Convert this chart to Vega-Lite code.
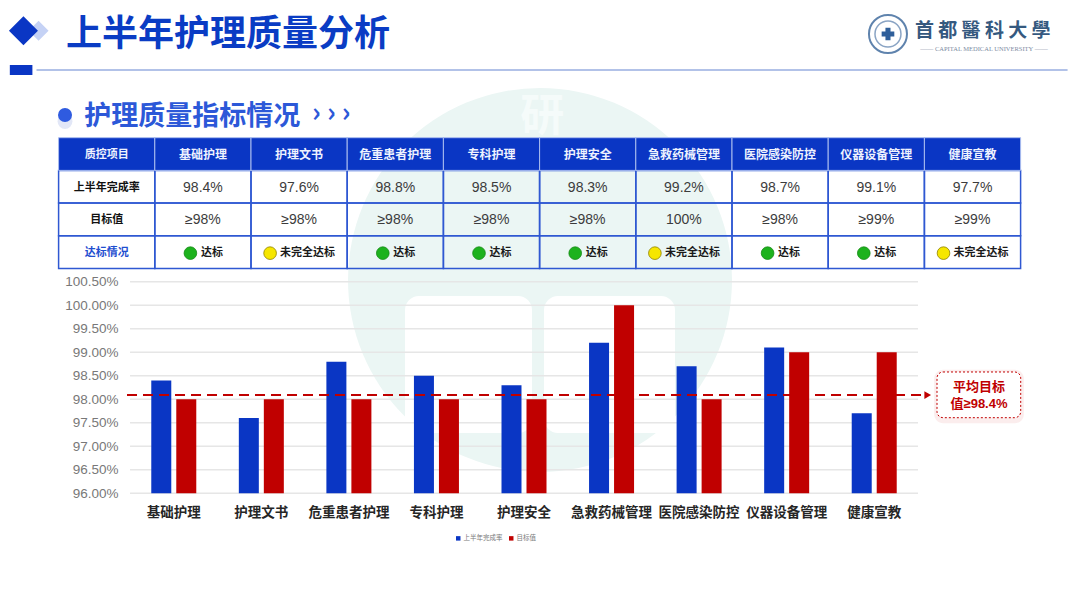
{
  "$schema": "https://vega.github.io/schema/vega-lite/v6.json",
  "width": 1080,
  "height": 608,
  "padding": 0,
  "autosize": {"type": "none"},
  "background": "white",
  "datasets": {
    "bars": [
      {"item": "基础护理", "series": "上半年完成率", "value": 98.4},
      {"item": "基础护理", "series": "目标值", "value": 98},
      {"item": "护理文书", "series": "上半年完成率", "value": 97.6},
      {"item": "护理文书", "series": "目标值", "value": 98},
      {"item": "危重患者护理", "series": "上半年完成率", "value": 98.8},
      {"item": "危重患者护理", "series": "目标值", "value": 98},
      {"item": "专科护理", "series": "上半年完成率", "value": 98.5},
      {"item": "专科护理", "series": "目标值", "value": 98},
      {"item": "护理安全", "series": "上半年完成率", "value": 98.3},
      {"item": "护理安全", "series": "目标值", "value": 98},
      {"item": "急救药械管理", "series": "上半年完成率", "value": 99.2},
      {"item": "急救药械管理", "series": "目标值", "value": 100},
      {"item": "医院感染防控", "series": "上半年完成率", "value": 98.7},
      {"item": "医院感染防控", "series": "目标值", "value": 98},
      {"item": "仪器设备管理", "series": "上半年完成率", "value": 99.1},
      {"item": "仪器设备管理", "series": "目标值", "value": 99},
      {"item": "健康宣教", "series": "上半年完成率", "value": 97.7},
      {"item": "健康宣教", "series": "目标值", "value": 99}
    ],
    "ticks": [
      {"tick": 96}, {"tick": 96.5}, {"tick": 97}, {"tick": 97.5}, {"tick": 98},
      {"tick": 98.5}, {"tick": 99}, {"tick": 99.5}, {"tick": 100}, {"tick": 100.5}
    ],
    "table": [
      {"row": "质控项目", "col": "质控项目", "kind": "corner", "label": "质控项目"},
      {"row": "质控项目", "col": "基础护理", "kind": "header", "label": "基础护理"},
      {"row": "质控项目", "col": "护理文书", "kind": "header", "label": "护理文书"},
      {"row": "质控项目", "col": "危重患者护理", "kind": "header", "label": "危重患者护理"},
      {"row": "质控项目", "col": "专科护理", "kind": "header", "label": "专科护理"},
      {"row": "质控项目", "col": "护理安全", "kind": "header", "label": "护理安全"},
      {"row": "质控项目", "col": "急救药械管理", "kind": "header", "label": "急救药械管理"},
      {"row": "质控项目", "col": "医院感染防控", "kind": "header", "label": "医院感染防控"},
      {"row": "质控项目", "col": "仪器设备管理", "kind": "header", "label": "仪器设备管理"},
      {"row": "质控项目", "col": "健康宣教", "kind": "header", "label": "健康宣教"},
      {"row": "上半年完成率", "col": "质控项目", "kind": "rowlabel", "label": "上半年完成率"},
      {"row": "上半年完成率", "col": "基础护理", "kind": "value", "label": "98.4%"},
      {"row": "上半年完成率", "col": "护理文书", "kind": "value", "label": "97.6%"},
      {"row": "上半年完成率", "col": "危重患者护理", "kind": "value", "label": "98.8%"},
      {"row": "上半年完成率", "col": "专科护理", "kind": "value", "label": "98.5%"},
      {"row": "上半年完成率", "col": "护理安全", "kind": "value", "label": "98.3%"},
      {"row": "上半年完成率", "col": "急救药械管理", "kind": "value", "label": "99.2%"},
      {"row": "上半年完成率", "col": "医院感染防控", "kind": "value", "label": "98.7%"},
      {"row": "上半年完成率", "col": "仪器设备管理", "kind": "value", "label": "99.1%"},
      {"row": "上半年完成率", "col": "健康宣教", "kind": "value", "label": "97.7%"},
      {"row": "目标值", "col": "质控项目", "kind": "rowlabel", "label": "目标值"},
      {"row": "目标值", "col": "基础护理", "kind": "value", "label": "≥98%"},
      {"row": "目标值", "col": "护理文书", "kind": "value", "label": "≥98%"},
      {"row": "目标值", "col": "危重患者护理", "kind": "value", "label": "≥98%"},
      {"row": "目标值", "col": "专科护理", "kind": "value", "label": "≥98%"},
      {"row": "目标值", "col": "护理安全", "kind": "value", "label": "≥98%"},
      {"row": "目标值", "col": "急救药械管理", "kind": "value", "label": "100%"},
      {"row": "目标值", "col": "医院感染防控", "kind": "value", "label": "≥98%"},
      {"row": "目标值", "col": "仪器设备管理", "kind": "value", "label": "≥99%"},
      {"row": "目标值", "col": "健康宣教", "kind": "value", "label": "≥99%"},
      {"row": "达标情况", "col": "质控项目", "kind": "statuslabel", "label": "达标情况"},
      {"row": "达标情况", "col": "基础护理", "kind": "met", "label": "达标"},
      {"row": "达标情况", "col": "护理文书", "kind": "partial", "label": "未完全达标"},
      {"row": "达标情况", "col": "危重患者护理", "kind": "met", "label": "达标"},
      {"row": "达标情况", "col": "专科护理", "kind": "met", "label": "达标"},
      {"row": "达标情况", "col": "护理安全", "kind": "met", "label": "达标"},
      {"row": "达标情况", "col": "急救药械管理", "kind": "partial", "label": "未完全达标"},
      {"row": "达标情况", "col": "医院感染防控", "kind": "met", "label": "达标"},
      {"row": "达标情况", "col": "仪器设备管理", "kind": "met", "label": "达标"},
      {"row": "达标情况", "col": "健康宣教", "kind": "partial", "label": "未完全达标"}
    ]
  },
  "resolve": {
    "scale": {"x": "independent", "y": "independent", "color": "independent"},
    "axis": {"x": "independent", "y": "independent"}
  },
  "layer": [
    {
      "data": {"values": [{"label": "研"}]},
      "layer": [
        {
          "mark": {"type": "point", "shape": "circle", "filled": true, "size": 147456, "color": "#ebf6f4", "opacity": 1},
          "encoding": {
            "x": {"datum": 50, "type": "quantitative", "scale": {"domain": [0, 100], "range": [0, 1080]}},
            "y": {"datum": 46.05, "type": "quantitative", "scale": {"domain": [0, 100], "range": [0, 608]}}
          }
        },
        {
          "mark": {"type": "rect", "color": "white", "cornerRadius": 14},
          "encoding": {
            "x": {"datum": 37.5, "type": "quantitative"}, "x2": {"datum": 49.26},
            "y": {"datum": 48.68, "type": "quantitative"}, "y2": {"datum": 71.22}
          }
        },
        {
          "mark": {"type": "rect", "color": "white", "cornerRadius": 14},
          "encoding": {
            "x": {"datum": 50.37, "type": "quantitative"}, "x2": {"datum": 62.5},
            "y": {"datum": 48.68, "type": "quantitative"}, "y2": {"datum": 71.22}
          }
        },
        {
          "mark": {"type": "text", "font": "Noto Sans CJK SC", "fontSize": 44, "fontWeight": "bold", "color": "#f5fbfa"},
          "encoding": {
            "x": {"datum": 50.2, "type": "quantitative"},
            "y": {"datum": 19.4, "type": "quantitative"},
            "text": {"field": "label"}
          }
        }
      ]
    },
    {
      "data": {"name": "ticks"},
      "mark": {"type": "rule", "color": "#e6e6e6", "strokeWidth": 1.5},
      "encoding": {
        "x": {"datum": 12.04, "type": "quantitative", "scale": {"domain": [0, 100], "range": [0, 1080]}},
        "x2": {"datum": 85},
        "y": {
          "field": "tick",
          "type": "quantitative",
          "scale": {"domain": [96, 100.5], "range": [493.3, 281.7]},
          "axis": {
            "disable": false,
            "title": null,
            "offset": -126,
            "values": [96, 96.5, 97, 97.5, 98, 98.5, 99, 99.5, 100, 100.5],
            "labelExpr": "format(datum.value, '.2f') + '%'",
            "labelFont": "Liberation Sans",
            "labelFontSize": 13.5,
            "labelColor": "#787878",
            "labelPadding": 8,
            "ticks": false,
            "domain": false,
            "grid": false
          }
        }
      }
    },
    {
      "data": {"name": "bars"},
      "mark": {"type": "bar"},
      "encoding": {
        "x": {
          "field": "item",
          "type": "nominal",
          "sort": null,
          "scale": {"range": [130, 918], "paddingInner": 0.486, "paddingOuter": 0.243},
          "axis": {
            "disable": false,
            "title": null,
            "offset": -114.7,
            "labelAngle": 0,
            "labelFont": "Noto Sans CJK SC",
            "labelFontSize": 13.5,
            "labelFontWeight": "bold",
            "labelColor": "#262626",
            "labelPadding": 12,
            "ticks": false,
            "domain": false,
            "grid": false
          }
        },
        "xOffset": {"field": "series", "type": "nominal", "sort": null, "scale": {"paddingInner": 0.2, "paddingOuter": 0}},
        "y": {
          "field": "value",
          "type": "quantitative",
          "stack": null,
          "scale": {"domain": [96, 100.5], "range": [493.3, 281.7]}
        },
        "y2": {"datum": 96},
        "color": {
          "field": "series",
          "type": "nominal",
          "sort": null,
          "scale": {"domain": ["上半年完成率", "目标值"], "range": ["#0a36c4", "#c00000"]},
          "legend": {
            "orient": "none",
            "legendX": 455,
            "legendY": 535,
            "direction": "horizontal",
            "title": null,
            "padding": 0,
            "symbolType": "square",
            "symbolSize": 20,
            "labelFont": "Noto Sans CJK SC",
            "labelFontSize": 6.5,
            "labelColor": "#7a7a7a",
            "labelOffset": 2,
            "columnPadding": 5
          }
        }
      }
    },
    {
      "data": {"name": "table"},
      "encoding": {
        "x": {
          "field": "col",
          "type": "nominal",
          "scale": {
            "domain": ["质控项目", "基础护理", "护理文书", "危重患者护理", "专科护理", "护理安全", "急救药械管理", "医院感染防控", "仪器设备管理", "健康宣教"],
            "range": [58.6, 1020.6],
            "paddingInner": 0,
            "paddingOuter": 0
          }
        },
        "y": {
          "field": "row",
          "type": "nominal",
          "scale": {
            "domain": ["质控项目", "上半年完成率", "目标值", "达标情况"],
            "range": [137.7, 268.5],
            "paddingInner": 0,
            "paddingOuter": 0
          }
        }
      },
      "layer": [
        {
          "transform": [{"filter": "datum.row !== '质控项目'"}],
          "mark": {"type": "rect", "fill": null, "stroke": "#2f58d2", "strokeWidth": 1.5}
        },
        {
          "transform": [{"filter": "datum.row === '质控项目'"}],
          "mark": {"type": "rect", "fill": "#0a36c4", "stroke": "#a9bcef", "strokeWidth": 1}
        },
        {
          "transform": [{"filter": "datum.kind === 'header'"}],
          "mark": {"type": "text", "font": "Noto Sans CJK SC", "fontSize": 12, "fontWeight": "bold", "color": "#eef2ff", "dy": 1},
          "encoding": {"text": {"field": "label"}}
        },
        {
          "transform": [{"filter": "datum.kind === 'corner'"}],
          "mark": {"type": "text", "font": "Noto Sans CJK SC", "fontSize": 11, "fontWeight": "bold", "color": "#eef2ff", "dy": 1},
          "encoding": {"text": {"field": "label"}}
        },
        {
          "transform": [{"filter": "datum.kind === 'rowlabel'"}],
          "mark": {"type": "text", "font": "Noto Sans CJK SC", "fontSize": 11, "fontWeight": "bold", "color": "#111111", "dy": 1},
          "encoding": {"text": {"field": "label"}}
        },
        {
          "transform": [{"filter": "datum.kind === 'statuslabel'"}],
          "mark": {"type": "text", "font": "Noto Sans CJK SC", "fontSize": 11, "fontWeight": "bold", "color": "#1f4fd0", "dy": 1},
          "encoding": {"text": {"field": "label"}}
        },
        {
          "transform": [{"filter": "datum.kind === 'value'"}],
          "mark": {"type": "text", "font": "Liberation Sans", "fontSize": 14, "color": "#3c3c3c", "dy": 1},
          "encoding": {"text": {"field": "label"}}
        },
        {
          "transform": [{"filter": "datum.kind === 'met'"}],
          "mark": {"type": "point", "shape": "circle", "filled": true, "size": 160, "xOffset": -12.5, "yOffset": 1, "fill": "#1db21d", "stroke": "#178a17", "strokeWidth": 0.8, "opacity": 1}
        },
        {
          "transform": [{"filter": "datum.kind === 'partial'"}],
          "mark": {"type": "point", "shape": "circle", "filled": true, "size": 160, "xOffset": -29, "yOffset": 1, "fill": "#f6e600", "stroke": "#8f8200", "strokeWidth": 0.8, "opacity": 1}
        },
        {
          "transform": [{"filter": "datum.kind === 'met'"}],
          "mark": {"type": "text", "font": "Noto Sans CJK SC", "fontSize": 11, "fontWeight": "bold", "color": "#1a1a1a", "align": "left", "dx": -2, "dy": 1},
          "encoding": {"text": {"field": "label"}}
        },
        {
          "transform": [{"filter": "datum.kind === 'partial'"}],
          "mark": {"type": "text", "font": "Noto Sans CJK SC", "fontSize": 11, "fontWeight": "bold", "color": "#1a1a1a", "align": "left", "dx": -19, "dy": 1},
          "encoding": {"text": {"field": "label"}}
        }
      ]
    },
    {
      "data": {"values": [{"label": "≥98.4"}]},
      "layer": [
        {
          "mark": {"type": "rule", "color": "#c00000", "strokeWidth": 2, "strokeDash": [10, 6]},
          "encoding": {
            "x": {"datum": 11.76, "type": "quantitative", "scale": {"domain": [0, 100], "range": [0, 1080]}},
            "x2": {"datum": 85.7},
            "y": {"datum": 98.09, "type": "quantitative", "scale": {"domain": [96, 100.5], "range": [493.3, 281.7]}}
          }
        },
        {
          "mark": {"type": "point", "shape": "triangle-right", "filled": true, "size": 60, "color": "#c00000", "opacity": 1},
          "encoding": {
            "x": {"datum": 85.9, "type": "quantitative"},
            "y": {"datum": 98.09, "type": "quantitative"}
          }
        }
      ]
    },
    {
      "data": {"values": [{"line1": "平均目标", "line2": "值≥98.4%"}]},
      "layer": [
        {
          "mark": {"type": "rect", "color": "#f7d6d6", "opacity": 0.45, "cornerRadius": 9},
          "encoding": {
            "x": {"datum": 86.5, "type": "quantitative", "scale": {"domain": [0, 100], "range": [0, 1080]}},
            "x2": {"datum": 94.8},
            "y": {"datum": 60.8, "type": "quantitative", "scale": {"domain": [0, 100], "range": [0, 608]}},
            "y2": {"datum": 69.6}
          }
        },
        {
          "mark": {"type": "rect", "fill": "white", "stroke": "#c00000", "strokeWidth": 1, "strokeDash": [2, 2], "cornerRadius": 6},
          "encoding": {
            "x": {"datum": 86.76, "type": "quantitative"}, "x2": {"datum": 94.51},
            "y": {"datum": 61.18, "type": "quantitative"}, "y2": {"datum": 68.7}
          }
        },
        {
          "mark": {"type": "text", "font": "Liberation Sans, Noto Sans CJK SC", "fontSize": 13, "fontWeight": "bold", "color": "#c00000"},
          "encoding": {
            "x": {"datum": 90.65, "type": "quantitative"},
            "y": {"datum": 63.65, "type": "quantitative"},
            "text": {"field": "line1"}
          }
        },
        {
          "mark": {"type": "text", "font": "Liberation Sans, Noto Sans CJK SC", "fontSize": 13, "fontWeight": "bold", "color": "#c00000"},
          "encoding": {
            "x": {"datum": 90.65, "type": "quantitative"},
            "y": {"datum": 66.45, "type": "quantitative"},
            "text": {"field": "line2"}
          }
        }
      ]
    },
    {
      "data": {"values": [{"title": "上半年护理质量分析", "section": "护理质量指标情况", "chevrons": "› › ›", "school": "首 都 醫 科 大 學", "english": "—— CAPITAL MEDICAL UNIVERSITY ——"}]},
      "layer": [
        {
          "mark": {"type": "point", "shape": "diamond", "filled": true, "size": 400, "color": "#c5d2f5", "opacity": 1},
          "encoding": {
            "x": {"datum": 3.57, "type": "quantitative", "scale": {"domain": [0, 100], "range": [0, 1080]}},
            "y": {"datum": 5.05, "type": "quantitative", "scale": {"domain": [0, 100], "range": [0, 608]}}
          }
        },
        {
          "mark": {"type": "point", "shape": "diamond", "filled": true, "size": 841, "color": "#0a36c4", "opacity": 1},
          "encoding": {"x": {"datum": 2.17, "type": "quantitative"}, "y": {"datum": 5.05, "type": "quantitative"}}
        },
        {
          "mark": {"type": "text", "font": "Noto Sans CJK SC", "fontSize": 36, "fontWeight": "bold", "color": "#0a3cc4", "align": "left"},
          "encoding": {"x": {"datum": 6.1, "type": "quantitative"}, "y": {"datum": 5.75, "type": "quantitative"}, "text": {"field": "title"}}
        },
        {
          "mark": {"type": "rect", "color": "#0a36c4"},
          "encoding": {
            "x": {"datum": 0.91, "type": "quantitative"}, "x2": {"datum": 3},
            "y": {"datum": 10.69, "type": "quantitative"}, "y2": {"datum": 12.34}
          }
        },
        {
          "mark": {"type": "rule", "color": "#b2c2e8", "strokeWidth": 2},
          "encoding": {
            "x": {"datum": 3.38, "type": "quantitative"}, "x2": {"datum": 98.85},
            "y": {"datum": 11.51, "type": "quantitative"}
          }
        },
        {
          "mark": {"type": "point", "shape": "circle", "filled": true, "size": 220, "color": "#d6ddf3", "opacity": 0.7},
          "encoding": {"x": {"datum": 6.02, "type": "quantitative"}, "y": {"datum": 20.0, "type": "quantitative"}}
        },
        {
          "mark": {"type": "point", "shape": "circle", "filled": true, "size": 196, "color": "#2f5be0", "opacity": 1},
          "encoding": {"x": {"datum": 6.02, "type": "quantitative"}, "y": {"datum": 18.91, "type": "quantitative"}}
        },
        {
          "mark": {"type": "text", "font": "Noto Sans CJK SC", "fontSize": 27, "fontWeight": "bold", "color": "#2c58d8", "align": "left"},
          "encoding": {"x": {"datum": 7.8, "type": "quantitative"}, "y": {"datum": 19.2, "type": "quantitative"}, "text": {"field": "section"}}
        },
        {
          "mark": {"type": "text", "font": "Noto Sans CJK SC", "fontSize": 27, "fontWeight": "bold", "color": "#2c58d8", "align": "left"},
          "encoding": {"x": {"datum": 28.9, "type": "quantitative"}, "y": {"datum": 18.8, "type": "quantitative"}, "text": {"field": "chevrons"}}
        },
        {
          "mark": {"type": "point", "shape": "circle", "filled": false, "size": 1444, "stroke": "#5f83ad", "strokeWidth": 2, "opacity": 1},
          "encoding": {"x": {"datum": 82.22, "type": "quantitative"}, "y": {"datum": 5.59, "type": "quantitative"}}
        },
        {
          "mark": {"type": "point", "shape": "circle", "filled": false, "size": 676, "stroke": "#8aa4c4", "strokeWidth": 1.5, "opacity": 1},
          "encoding": {"x": {"datum": 82.22, "type": "quantitative"}, "y": {"datum": 5.59, "type": "quantitative"}}
        },
        {
          "mark": {"type": "point", "shape": "cross", "filled": true, "size": 160, "color": "#2f5f9a", "opacity": 1},
          "encoding": {"x": {"datum": 82.22, "type": "quantitative"}, "y": {"datum": 5.59, "type": "quantitative"}}
        },
        {
          "mark": {"type": "text", "font": "Noto Sans CJK TC", "fontSize": 19, "fontWeight": "bold", "color": "#35597f", "align": "left"},
          "encoding": {"x": {"datum": 84.72, "type": "quantitative"}, "y": {"datum": 5.1, "type": "quantitative"}, "text": {"field": "school"}}
        },
        {
          "mark": {"type": "text", "font": "Liberation Serif", "fontSize": 6.5, "color": "#7d8ca3"},
          "encoding": {"x": {"datum": 91.11, "type": "quantitative"}, "y": {"datum": 8.06, "type": "quantitative"}, "text": {"field": "english"}}
        }
      ]
    }
  ],
  "config": {
    "font": "Noto Sans CJK SC",
    "view": {"stroke": null},
    "axis": {"disable": true}
  }
}
